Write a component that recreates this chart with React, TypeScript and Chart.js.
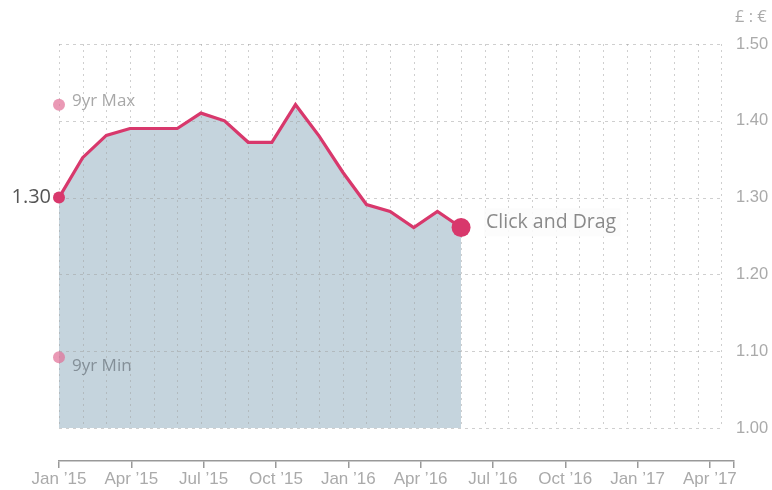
import React, { useEffect, useRef } from "react";
import { Chart, registerables } from "chart.js";

Chart.register(...registerables);

// ---- data ----
const monthIndex = [0, 1, 2, 3, 4, 5, 6, 7, 8, 9, 10, 11, 12, 13, 14, 15, 16, 17];
const rateValues = [1.3, 1.352, 1.381, 1.39, 1.39, 1.39, 1.41, 1.4, 1.372, 1.372, 1.421, 1.38, 1.333, 1.291, 1.282, 1.261, 1.282, 1.261];
const tickMonths = [0, 3, 6, 9, 12, 15, 18, 21, 24, 27];
const tickLabels = ["Jan \u201915", "Apr \u201915", "Jul \u201915", "Oct \u201915", "Jan \u201916", "Apr \u201916", "Jul \u201916", "Oct \u201916", "Jan \u201917", "Apr \u201917"];
const axisEndMonth = 28;
const gridMonthCount = 28;
const yTicks = [1.0, 1.1, 1.2, 1.3, 1.4, 1.5];
const extremeLabels = ["9yr Max", "9yr Min"];
const extremeValues = [1.421, 1.092];
const currentLabel = "1.30";
const unitLabel = "\u00a3 : \u20ac";
const hintLabel = "Click and Drag";

const LINE = "#d8386c";
const FILL = "#c5d4dd";
const ANN_FONT = "'Open Sans', 'Noto Sans', sans-serif";
const AXIS_FONT = "'Liberation Sans', Arial, sans-serif";

export default function App() {
  const ref = useRef<HTMLCanvasElement | null>(null);

  useEffect(() => {
    if (!ref.current) return;
    const lastIdx = rateValues.length - 1;

    const gridPlugin = {
      id: "dottedGrid",
      beforeDatasetsDraw(chart: any) {
        const { ctx } = chart;
        const xs = chart.scales.x;
        const ys = chart.scales.y;
        ctx.save();
        ctx.strokeStyle = "rgba(160,160,160,0.5)";
        ctx.lineWidth = 1;
        ctx.setLineDash([2, 4]);
        const yTop = ys.getPixelForValue(yTicks[yTicks.length - 1]);
        const yBot = ys.getPixelForValue(yTicks[0]);
        for (let m = 0; m <= gridMonthCount; m++) {
          const x = Math.round(xs.getPixelForValue(m)) + 0.5;
          ctx.beginPath();
          ctx.moveTo(x, yTop);
          ctx.lineTo(x, yBot);
          ctx.stroke();
        }
        const x0 = xs.getPixelForValue(0);
        const x1 = xs.getPixelForValue(gridMonthCount);
        ctx.setLineDash([3, 4]);
        for (const v of yTicks) {
          const y = Math.round(ys.getPixelForValue(v)) + 0.5;
          ctx.beginPath();
          ctx.moveTo(x0, y);
          ctx.lineTo(x1, y);
          ctx.stroke();
        }
        ctx.restore();
      },
    };

    const annPlugin = {
      id: "annotations",
      afterDatasetsDraw(chart: any) {
        const { ctx } = chart;
        const xs = chart.scales.x;
        const ys = chart.scales.y;
        ctx.save();
        const x0 = xs.getPixelForValue(0);
        // 9yr labels
        ctx.font = `17px ${ANN_FONT}`;
        ctx.textAlign = "left";
        ctx.textBaseline = "middle";
        ctx.fillStyle = "#a8a8a8";
        ctx.fillText(extremeLabels[0], x0 + 13, ys.getPixelForValue(extremeValues[0]) - 4);
        ctx.fillStyle = "rgba(110,120,128,0.75)";
        ctx.fillText(extremeLabels[1], x0 + 13, ys.getPixelForValue(extremeValues[1]) + 9);
        // current value
        ctx.font = `20px ${ANN_FONT}`;
        ctx.fillStyle = "#555";
        ctx.textAlign = "right";
        ctx.fillText(currentLabel, x0 - 8, ys.getPixelForValue(rateValues[0]));
        // hint
        const hx = xs.getPixelForValue(monthIndex[lastIdx]) + 25;
        const hy = ys.getPixelForValue(rateValues[lastIdx]) - 5;
        ctx.font = `19.5px ${ANN_FONT}`;
        const w = ctx.measureText(hintLabel).width;
        ctx.fillStyle = "rgba(252,252,252,0.9)";
        ctx.fillRect(hx - 2, hy - 14, w + 6, 28);
        ctx.fillStyle = "#8a8a8a";
        ctx.textAlign = "left";
        ctx.fillText(hintLabel, hx, hy);
        // unit
        ctx.font = `16.5px ${ANN_FONT}`;
        ctx.fillStyle = "#aaa";
        ctx.fillText(unitLabel, chart.chartArea.right + 1, 17);
        ctx.restore();
      },
    };

    const chart = new Chart(ref.current, {
      type: "line",
      data: {
        datasets: [
          {
            data: monthIndex.map((m, i) => ({ x: m, y: rateValues[i] })),
            borderColor: LINE,
            borderWidth: 3.2,
            backgroundColor: FILL,
            fill: { value: yTicks[0] },
            tension: 0,
            clip: false,
            pointRadius: (c: any) => (c.dataIndex === 0 ? 6 : c.dataIndex === lastIdx ? 9.5 : 0),
            pointBackgroundColor: LINE,
            pointBorderWidth: 0,
            pointHoverRadius: 0,
          } as any,
          {
            data: extremeValues.map((v) => ({ x: 0, y: v })),
            showLine: false,
            pointRadius: 6,
            pointBackgroundColor: "rgba(225,110,150,0.7)",
            pointBorderWidth: 0,
            clip: false,
            fill: false,
          } as any,
        ],
      },
      options: {
        animation: false,
        responsive: false,
        devicePixelRatio: 1,
        events: [],
        layout: { padding: { left: 59, top: 44, right: 0, bottom: 0 } },
        plugins: {
          legend: { display: false },
          tooltip: { enabled: false },
          filler: { drawTime: "beforeDatasetsDraw" },
        } as any,
        scales: {
          x: {
            type: "linear",
            min: 0,
            max: 28.54,
            display: false,
          },
          x2: {
            type: "linear",
            position: "bottom",
            min: 0,
            max: axisEndMonth,
            afterBuildTicks: (s: any) => {
              s.ticks = [...tickMonths, axisEndMonth].map((v) => ({ value: v }));
            },
            afterFit: (s: any) => {
              s.height = 29;
            },
            ticks: {
              autoSkip: false,
              maxRotation: 0,
              padding: 1,
              color: "#aaa",
              font: { family: AXIS_FONT, size: 17 },
              callback: (v: any) => {
                const i = tickMonths.indexOf(v);
                return i >= 0 ? tickLabels[i] : "";
              },
            },
            grid: { drawOnChartArea: false, drawTicks: true, tickLength: 7, color: "#999", lineWidth: 1.5 },
            border: { display: true, color: "#999", width: 1.5 },
          },
          y: {
            type: "linear",
            position: "right",
            min: 0.957,
            max: 1.5,
            afterBuildTicks: (s: any) => {
              s.ticks = yTicks.map((v) => ({ value: v }));
            },
            afterFit: (s: any) => {
              s.width = 38;
            },
            ticks: {
              padding: 2,
              color: "#aaa",
              font: { family: AXIS_FONT, size: 16.5 },
              callback: (v: any) => Number(v).toFixed(2),
            },
            grid: { display: false, drawTicks: false },
            border: { display: false },
          },
        } as any,
      },
      plugins: [gridPlugin, annPlugin],
    } as any);

    return () => chart.destroy();
  }, []);

  return (
    <div style={{ position: "absolute", left: 0, top: 0, width: 772, height: 490, background: "#fff" }}>
      <canvas ref={ref} width={772} height={490} style={{ display: "block" }} />
    </div>
  );
}
